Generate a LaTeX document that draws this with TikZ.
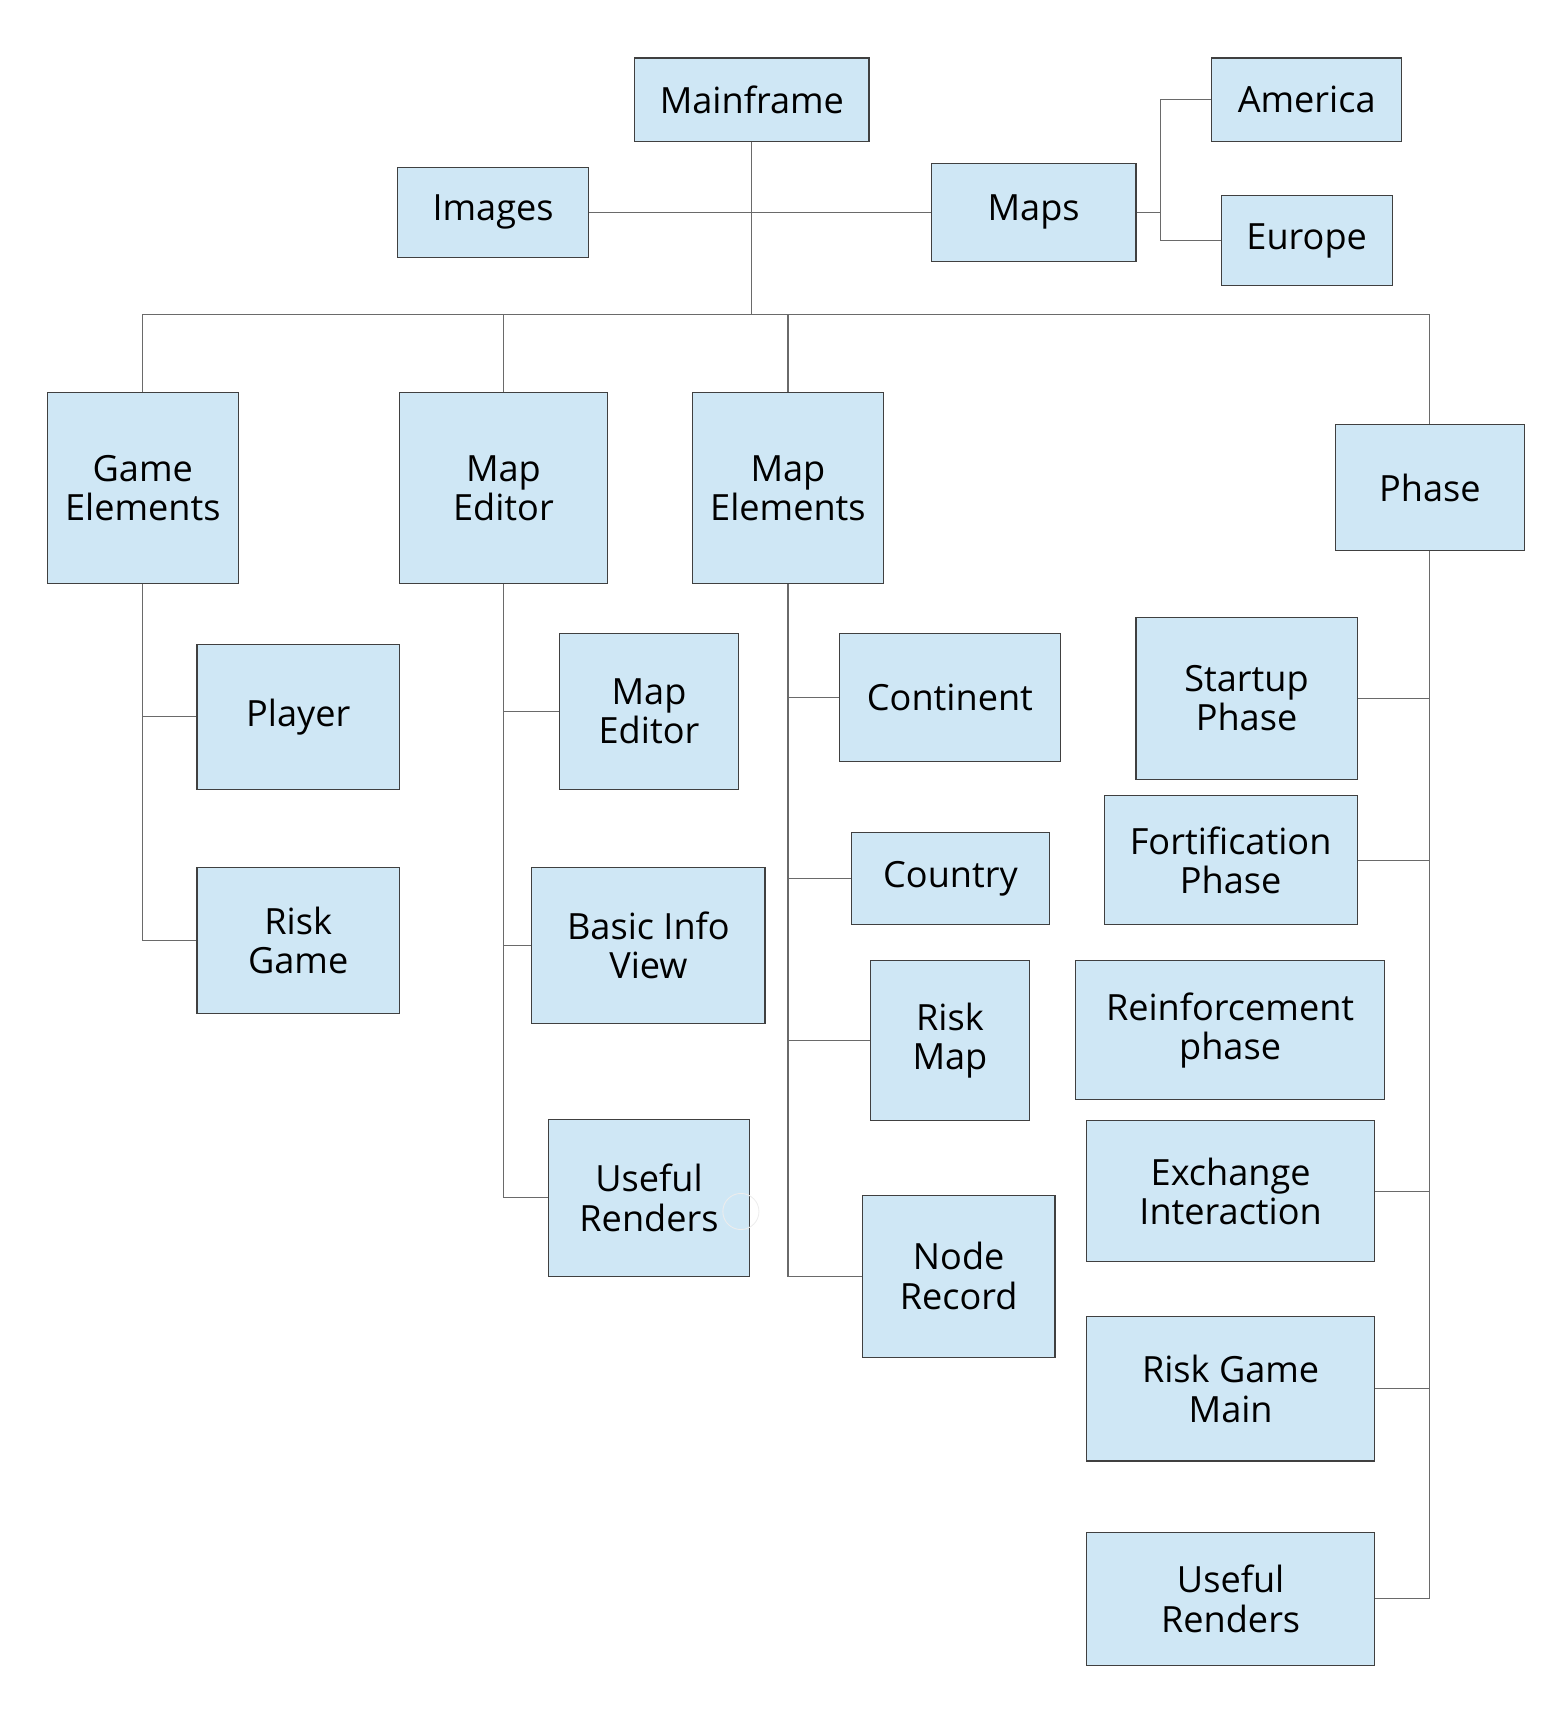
\documentclass[tikz,border=0pt]{standalone}
\usepackage{fontspec}
\setmainfont{Open Sans}
\definecolor{boxfill}{HTML}{CFE7F5}
\definecolor{boxline}{HTML}{404040}
\definecolor{conn}{HTML}{6A6A6A}
\begin{document}
\begin{tikzpicture}[x=1pt,y=-1pt,
  box/.style={draw=boxline,fill=boxfill,line width=1pt,inner sep=0pt,align=center,
    font=\fontsize{33}{36}\selectfont},
  link/.style={draw=conn,line width=1pt}]
\useasboundingbox (0,0) rectangle (1423,1568);
% helper to size boxes
\newcommand{\bx}[6]{\node[box,minimum width=#3pt,minimum height=#4pt] (#1) at (#2) {#5};}
% top level
\node[box,minimum width=214pt,minimum height=76pt] (main) at (687,91) {Mainframe};
\node[box,minimum width=175pt,minimum height=82pt] (img) at (450.5,194) {Images};
\node[box,minimum width=187pt,minimum height=90pt] (maps) at (944.5,194) {Maps};
\node[box,minimum width=174pt,minimum height=76pt] (am) at (1194,91) {America};
\node[box,minimum width=156pt,minimum height=82pt] (eu) at (1194,220) {Europe};
% second level
\node[box,minimum width=175pt,minimum height=174pt] (ge) at (130.5,446) {Game\\Elements};
\node[box,minimum width=190pt,minimum height=174pt] (med) at (460,446) {Map\\Editor};
\node[box,minimum width=174pt,minimum height=174pt] (mel) at (720,446) {Map\\Elements};
\node[box,minimum width=173pt,minimum height=115pt] (ph) at (1306.5,445.5) {Phase};
% game elements children
\node[box,minimum width=185pt,minimum height=132pt] (pl) at (272.5,655) {Player};
\node[box,minimum width=185pt,minimum height=133pt] (rg) at (272.5,859.5) {Risk\\Game};
% map editor children
\node[box,minimum width=164pt,minimum height=142pt] (med2) at (593,650) {Map\\Editor};
\node[box,minimum width=213pt,minimum height=142pt] (biv) at (592.5,864) {Basic Info\\View};
\node[box,minimum width=184pt,minimum height=143pt] (ur1) at (593,1094.5) {Useful\\Renders};
% map elements children
\node[box,minimum width=202pt,minimum height=117pt] (cont) at (868,637.5) {Continent};
\node[box,minimum width=181pt,minimum height=84pt] (ctry) at (868.5,803) {Country};
\node[box,minimum width=146pt,minimum height=146pt] (rm) at (868,951) {Risk\\Map};
\node[box,minimum width=176pt,minimum height=148pt] (nr) at (876,1166) {Node\\Record};
% phase children
\node[box,minimum width=202pt,minimum height=148pt] (sp) at (1139,638) {Startup\\Phase};
\node[box,minimum width=231pt,minimum height=118pt] (fp) at (1124.5,786) {Fortification\\Phase};
\node[box,minimum width=282pt,minimum height=127pt] (rp) at (1124,941.5) {Reinforcement\\phase};
\node[box,minimum width=263pt,minimum height=129pt] (ei) at (1124.5,1088.5) {Exchange\\Interaction};
\node[box,minimum width=263pt,minimum height=132pt] (rgm) at (1124.5,1269) {Risk Game\\Main};
\node[box,minimum width=263pt,minimum height=122pt] (ur2) at (1124.5,1461) {Useful\\Renders};
% faint artefact circle
\draw[draw=black!7,line width=0.8pt] (677,1107) circle (16.5pt);
% connectors
\coordinate (bus) at (687,287);
\coordinate (mj) at (1060,194);
\draw[link] (img.east) -- (maps.west);
\draw[link] (main.south) -- (bus);
\draw[link] (ge.north) -- (ge.north |- bus) -- (ph.north |- bus) -- (ph.north);
\draw[link] (med.north) -- (med.north |- bus);
\draw[link] (mel.north) -- (mel.north |- bus);
\draw[link] (maps.east) -- (mj);
\draw[link] (am.west) -| (mj) |- (eu.west);
\draw[link] (ge.south) |- (pl.west);
\draw[link] (ge.south) |- (rg.west);
\draw[link] (med.south) |- (med2.west);
\draw[link] (med.south) |- (biv.west);
\draw[link] (med.south) |- (ur1.west);
\draw[link] (mel.south) |- (cont.west);
\draw[link] (mel.south) |- (ctry.west);
\draw[link] (mel.south) |- (rm.west);
\draw[link] (mel.south) |- (nr.west);
\draw[link] (ph.south) |- (sp.east);
\draw[link] (ph.south) |- (fp.east);
\draw[link] (ph.south) |- (ei.east);
\draw[link] (ph.south) |- (rgm.east);
\draw[link] (ph.south) |- (ur2.east);
\end{tikzpicture}
\end{document}
